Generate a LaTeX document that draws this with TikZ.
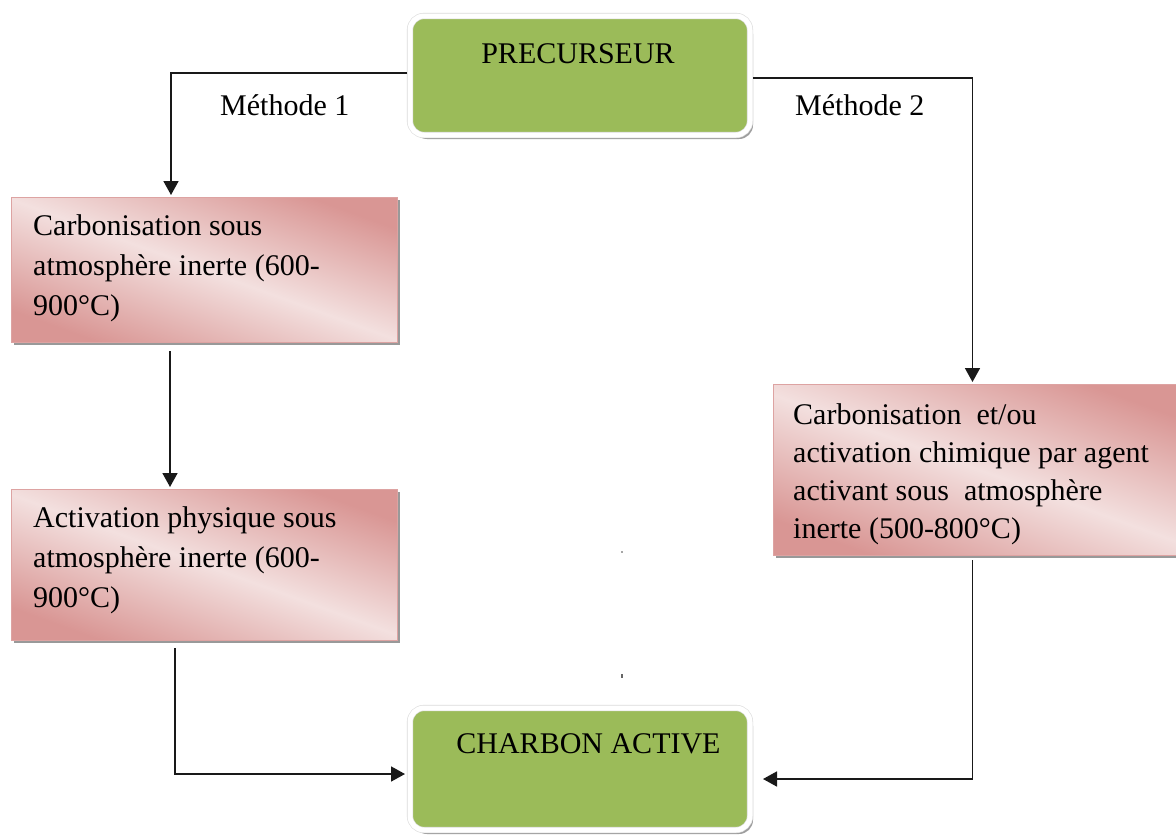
\documentclass[tikz,border=0pt]{standalone}
\usepackage{fontspec}
\setmainfont{Liberation Serif}
\usetikzlibrary{shadows,arrows.meta,calc}
\definecolor{boxgreen}{HTML}{9BBB59}
\definecolor{pinkdark}{HTML}{D99694}
\definecolor{pinklight}{HTML}{F3E0DF}
\definecolor{pinkedge}{HTML}{DDA3A2}

\begin{document}
\begin{tikzpicture}[x=1pt,y=-1pt,
  greenbox/.style={draw=black!14, double=white, double distance=5pt,
    line width=0.6pt, fill=boxgreen, rounded corners=14pt,
    inner sep=0pt, outer sep=3pt,
    drop shadow={shadow xshift=3pt, shadow yshift=-4pt, fill=black!38, opacity=1}},
  pinkbox/.style={draw=pinkedge, line width=0.8pt,
    top color=pinkdark, bottom color=pinkdark, middle color=pinklight,
    shading angle=-20, inner sep=0pt, outer sep=0pt,
    drop shadow={shadow xshift=3pt, shadow yshift=-3pt, fill=black!40, opacity=1}},
  title/.style={font=\fontsize{30}{36}\selectfont, inner sep=0pt, anchor=base},
  boxtext/.style={font=\fontsize{30}{40}\selectfont, align=left,
    inner sep=0pt, anchor=base west},
  lbl/.style={font=\fontsize{30}{36}\selectfont, inner sep=0pt, anchor=base west},
  conn/.style={line width=1.7pt, draw=black!90,
    -{Triangle[width=15pt,length=14pt]}}
]
% page
\fill[white] (0,0) rectangle (1176,835);
\useasboundingbox (0,0) rectangle (1176,835);

% start and end boxes
\node[greenbox, minimum width=340pt, minimum height=119pt] (prec) at (580,75.5) {};
\node[title] (precT) at (578,63) {PRECURSEUR};
\node[greenbox, minimum width=340pt, minimum height=122pt] (charb) at (580,769) {};
\node[title] (charbT) at (588.5,753) {CHARBON ACTIVE};

% process steps
\node[pinkbox, minimum width=386pt, minimum height=145pt] (b1) at (204,269.5) {};
\node[pinkbox, minimum width=386pt, minimum height=151pt] (b2) at (204,564.5) {};
\node[pinkbox, minimum width=412pt, minimum height=171pt] (b3) at (979,469.5) {};

% text of the steps (anchored on the baseline of the last line)
\node[boxtext] (t1) at (33,315) {Carbonisation sous\\atmosphère inerte (600-\\900°C)};
\node[boxtext] (t2) at (33,607) {Activation physique sous\\atmosphère inerte (600-\\900°C)};
\node[boxtext, font=\fontsize{30}{37.7}\selectfont] (t3) at (793,538)
  {Carbonisation\ \ et/ou\\activation chimique par agent\\activant sous\ \ atmosphère\\inerte (500-800°C)};

% branch labels
\node[lbl] (m1) at (220,115) {Méthode 1};
\node[lbl] (m2) at (795,115) {Méthode 2};

% connector columns
\coordinate (k1) at (171,0);
\coordinate (k1b) at (170,0);
\coordinate (k3) at (175,0);
\coordinate (k2) at (972.5,0);

% method 1
\draw[conn, shorten >=2pt] ([yshift=2.8pt]prec.west) -| (k1 |- b1.north);
\draw[conn, shorten <=9pt, shorten >=2pt] (k1b |- b1.south) -- (k1b |- b2.north);
\draw[conn, shorten <=8pt, shorten >=2pt] (k3 |- b2.south) |- ([yshift=-5pt]charb.west);

% method 2
\draw[conn, shorten >=2pt] ([yshift=-2.8pt]prec.east) -| (k2 |- b3.north);
\draw[conn, shorten <=5pt, shorten >=10pt] (k2 |- b3.south) |- ([yshift=-10pt]charb.east);

% stray marks
\fill[black!35] (621,551) rectangle (623,553);
\fill[black!60] (621,674) rectangle (622.8,678);
\end{tikzpicture}
\end{document}
